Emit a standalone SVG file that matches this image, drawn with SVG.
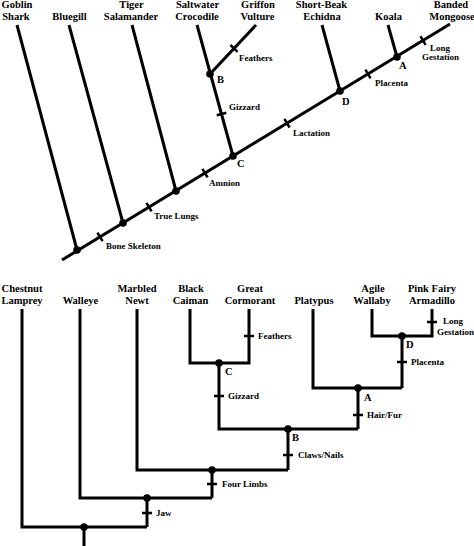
<svg xmlns="http://www.w3.org/2000/svg" width="474" height="546" viewBox="0 0 474 546">
<style>
.ln{stroke:#000;stroke-width:3;fill:none;stroke-linecap:butt;stroke-linejoin:miter}
.tk{stroke:#000;stroke-width:2.5;fill:none}
.nd{fill:#000}
text{font-family:"Liberation Serif","Times New Roman",serif;font-weight:bold;fill:#000}
.tx{font-size:10.5px;text-anchor:middle}
.lb{font-size:9px}
.lt{font-size:10.5px}
</style>
<rect width="474" height="546" fill="#fff"/>
<g id="connectors">
<!-- top cladogram -->
<path class="ln" d="M62,260 L450,24"/>
<path class="ln" d="M17,25 L77,250"/>
<path class="ln" d="M69,25 L123,223"/>
<path class="ln" d="M132,25 L176,191"/>
<path class="ln" d="M197,25 L233,156"/>
<path class="ln" d="M210,74 L256,25"/>
<path class="ln" d="M322,25 L340,91"/>
<path class="ln" d="M388,25 L397,57"/>
<path class="tk" d="M97.4,232.6 L102.6,241.2"/>
<path class="tk" d="M146.4,202.8 L151.6,211.4"/>
<path class="tk" d="M202.4,168.8 L207.6,177.4"/>
<path class="tk" d="M284.4,118.9 L289.6,127.5"/>
<path class="tk" d="M365.4,69.7 L370.6,78.3"/>
<path class="tk" d="M420.4,36.2 L425.6,44.8"/>
<path class="tk" d="M216.7,115.3 L226.3,112.7"/>
<path class="tk" d="M230.4,45 L237.6,51.8"/>
<!-- bottom cladogram -->
<path class="ln" d="M22,309 V527 H147"/>
<path class="ln" d="M84,527 V546"/>
<path class="ln" d="M80,309 V498 H212"/>
<path class="ln" d="M147,498 V527"/>
<path class="ln" d="M137,309 V470 H288"/>
<path class="ln" d="M212,470 V498"/>
<path class="ln" d="M288,429 V470"/>
<path class="ln" d="M219,363 V429 H358"/>
<path class="ln" d="M190,309 V363 H249 V309"/>
<path class="ln" d="M313,309 V388 H402"/>
<path class="ln" d="M358,388 V429"/>
<path class="ln" d="M402,336 V388"/>
<path class="ln" d="M372,309 V336 H432 V309"/>
<path class="tk" d="M142,513 H152"/>
<path class="tk" d="M207,484 H217"/>
<path class="tk" d="M283,455 H293"/>
<path class="tk" d="M353,415 H363"/>
<path class="tk" d="M397,362 H407"/>
<path class="tk" d="M427,322 H437"/>
<path class="tk" d="M214,396 H224"/>
<path class="tk" d="M244,336 H254"/>
</g>
<g id="top-nodes">
<circle class="nd" cx="77" cy="250" r="3.8"/>
<circle class="nd" cx="123" cy="223" r="3.8"/>
<circle class="nd" cx="176" cy="191" r="3.8"/>
<circle class="nd" cx="233" cy="156" r="3.8"/>
<circle class="nd" cx="210" cy="74" r="3.8"/>
<circle class="nd" cx="340" cy="91" r="3.8"/>
<circle class="nd" cx="397" cy="57" r="3.8"/>
</g>
<g id="top-taxa">
<text class="tx" x="17" y="8">Goblin</text><text class="tx" x="16" y="20">Shark</text>
<text class="tx" x="69.5" y="20">Bluegill</text>
<text class="tx" x="131.5" y="8">Tiger</text><text class="tx" x="131" y="20">Salamander</text>
<text class="tx" x="197.5" y="8">Saltwater</text><text class="tx" x="197" y="20">Crocodile</text>
<text class="tx" x="258" y="8">Griffon</text><text class="tx" x="257.5" y="20">Vulture</text>
<text class="tx" x="321.5" y="8">Short-Beak</text><text class="tx" x="322" y="20">Echidna</text>
<text class="tx" x="388.5" y="20">Koala</text>
<text class="tx" x="451" y="8">Banded</text><text class="tx" x="452" y="20">Mongoose</text>
</g>
<g id="top-labels">
<text class="lb" x="106" y="249">Bone Skeleton</text>
<text class="lb" x="154" y="219">True Lungs</text>
<text class="lb" x="209" y="186">Amnion</text>
<text class="lt" x="237" y="167">C</text>
<text class="lb" x="229" y="110">Gizzard</text>
<text class="lt" x="217" y="83">B</text>
<text class="lb" x="239" y="61">Feathers</text>
<text class="lb" x="293" y="136">Lactation</text>
<text class="lt" x="342" y="105">D</text>
<text class="lb" x="375" y="86">Placenta</text>
<text class="lt" x="399" y="69">A</text>
<text class="lb" x="430" y="51">Long</text>
<text class="lb" x="422" y="60">Gestation</text>
</g>
<g id="bottom-nodes">
<circle class="nd" cx="84" cy="527" r="3.8"/>
<circle class="nd" cx="147" cy="498" r="3.8"/>
<circle class="nd" cx="212" cy="470" r="3.8"/>
<circle class="nd" cx="288" cy="429" r="3.8"/>
<circle class="nd" cx="219" cy="363" r="3.8"/>
<circle class="nd" cx="358" cy="388" r="3.8"/>
<circle class="nd" cx="402" cy="336" r="3.8"/>
</g>
<g id="bottom-taxa">
<text class="tx" x="22" y="292">Chestnut</text><text class="tx" x="22" y="304">Lamprey</text>
<text class="tx" x="80.5" y="304">Walleye</text>
<text class="tx" x="137" y="292">Marbled</text><text class="tx" x="137" y="304">Newt</text>
<text class="tx" x="191" y="292">Black</text><text class="tx" x="190.5" y="304">Caiman</text>
<text class="tx" x="250" y="292">Great</text><text class="tx" x="250" y="304">Cormorant</text>
<text class="tx" x="314" y="304">Platypus</text>
<text class="tx" x="373" y="292">Agile</text><text class="tx" x="372" y="304">Wallaby</text>
<text class="tx" x="432" y="292">Pink Fairy</text><text class="tx" x="432" y="304">Armadillo</text>
</g>
<g id="bottom-labels">
<text class="lb" x="156" y="516">Jaw</text>
<text class="lb" x="222" y="487">Four Limbs</text>
<text class="lb" x="298" y="458">Claws/Nails</text>
<text class="lt" x="292" y="441">B</text>
<text class="lb" x="367" y="418">Hair/Fur</text>
<text class="lt" x="364" y="401">A</text>
<text class="lb" x="411" y="365">Placenta</text>
<text class="lt" x="406" y="348">D</text>
<text class="lb" x="443" y="324">Long</text>
<text class="lb" x="437" y="335">Gestation</text>
<text class="lb" x="228" y="399">Gizzard</text>
<text class="lt" x="225" y="375">C</text>
<text class="lb" x="258" y="339">Feathers</text>
</g>
</svg>
